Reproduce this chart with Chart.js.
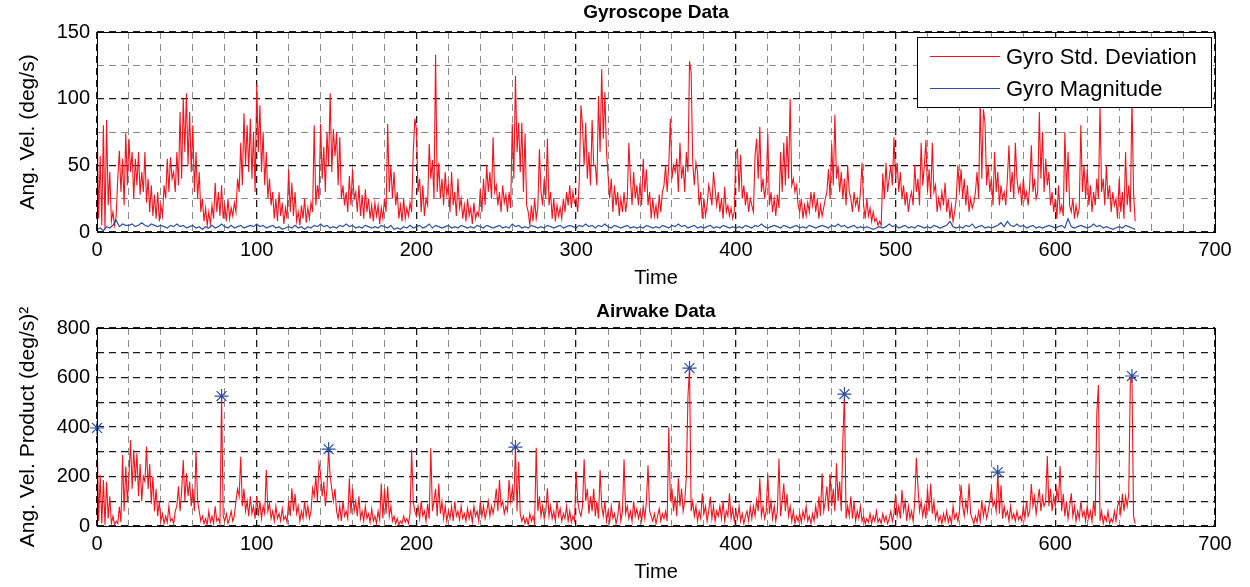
<!DOCTYPE html>
<html>
<head>
<meta charset="utf-8">
<script src="https://cdn.jsdelivr.net/npm/chart.js@4.4.1/dist/chart.umd.min.js"></script>
<style>
  html, body { margin: 0; padding: 0; background: #fff; }
  .panel { position: absolute; left: 0; }
  #gyroPanel { top: 0; }
  #airPanel { top: 293px; }
</style>
</head>
<body>
<div class="panel" id="gyroPanel"><canvas id="gyroChart" width="1250" height="293"></canvas></div>
<div class="panel" id="airPanel"><canvas id="airChart" width="1250" height="294"></canvas></div>
<script>
// Gyro std. deviation, one value per time unit (t = 0..650)
const gyroStd = [
  90, 10, 57, 5, 80, 2, 84, 20, 45, 8,
  15, 5, 12, 40, 61, 30, 55, 20, 74, 35,
  70, 45, 60, 25, 55, 35, 60, 28, 45, 30,
  60, 22, 40, 15, 35, 12, 28, 10, 30, 8,
  20, 12, 35, 25, 55, 30, 56, 40, 45, 30,
  60, 35, 90, 40, 100, 60, 104, 50, 90, 45,
  80, 30, 60, 25, 45, 15, 25, 8, 18, 5,
  15, 6, 20, 10, 37, 15, 30, 12, 35, 10,
  20, 8, 25, 10, 18, 12, 22, 15, 40, 30,
  67, 35, 89, 50, 80, 45, 85, 40, 75, 30,
  111, 60, 95, 45, 75, 35, 60, 25, 40, 20,
  30, 10, 25, 8, 30, 12, 22, 6, 18, 10,
  47, 15, 37, 12, 30, 8, 15, 5, 20, 10,
  25, 7, 18, 10, 22, 15, 80, 20, 35, 25,
  81, 40, 64, 30, 75, 50, 104, 45, 77, 57,
  75, 35, 71, 25, 35, 20, 30, 15, 42, 20,
  47, 25, 30, 15, 35, 12, 28, 10, 32, 15,
  25, 10, 20, 8, 22, 12, 20, 6, 18, 10,
  25, 15, 81, 30, 50, 25, 45, 20, 30, 10,
  20, 8, 25, 10, 18, 12, 22, 15, 60, 85,
  77, 30, 40, 15, 35, 12, 25, 20, 66, 40,
  54, 25, 133, 30, 52, 25, 40, 20, 45, 28,
  35, 15, 45, 20, 30, 12, 40, 18, 25, 10,
  20, 8, 25, 12, 18, 6, 22, 10, 15, 12,
  32, 15, 40, 20, 50, 30, 45, 25, 71, 30,
  35, 20, 30, 15, 35, 22, 28, 15, 30, 18,
  81, 40, 117, 60, 82, 45, 82, 30, 74, 20,
  15, 5, 20, 8, 25, 10, 18, 62, 30, 20,
  40, 25, 70, 20, 30, 10, 25, 8, 20, 12,
  18, 10, 25, 15, 30, 20, 35, 18, 30, 22,
  25, 15, 40, 95, 80, 50, 82, 40, 60, 35,
  84, 50, 50, 35, 102, 60, 122, 70, 105, 60,
  42, 25, 40, 15, 35, 20, 30, 12, 25, 15,
  30, 15, 25, 67, 40, 20, 45, 25, 35, 20,
  37, 20, 55, 30, 47, 20, 30, 10, 25, 12,
  20, 10, 28, 15, 30, 35, 50, 30, 50, 85,
  40, 50, 45, 55, 30, 67, 40, 50, 30, 60,
  45, 128, 120, 52, 35, 52, 45, 20, 30, 10,
  25, 12, 20, 35, 29, 20, 45, 32, 20, 30,
  15, 25, 10, 34, 15, 20, 12, 18, 10, 15,
  60, 62, 30, 58, 25, 35, 20, 30, 15, 25,
  20, 15, 57, 70, 40, 79, 30, 40, 25, 35,
  74, 20, 30, 15, 25, 12, 28, 18, 60, 30,
  67, 35, 72, 40, 100, 35, 40, 30, 35, 20,
  15, 25, 10, 20, 12, 22, 15, 30, 20, 30,
  15, 25, 10, 20, 12, 18, 25, 30, 47, 25,
  66, 35, 88, 40, 50, 30, 45, 25, 40, 20,
  50, 30, 25, 15, 30, 20, 25, 15, 30, 52,
  20, 10, 25, 12, 18, 8, 15, 8, 10, 5,
  8, 5, 44, 25, 52, 30, 40, 50, 35, 71,
  40, 52, 30, 45, 25, 35, 20, 30, 15, 25,
  30, 20, 50, 30, 40, 20, 67, 35, 50, 69,
  30, 47, 25, 67, 30, 35, 15, 25, 18, 30,
  20, 37, 15, 25, 10, 20, 8, 15, 25, 50,
  30, 47, 25, 40, 20, 35, 15, 25, 18, 22,
  30, 45, 25, 100, 40, 92, 82, 35, 50, 30,
  40, 20, 60, 30, 45, 20, 35, 25, 30, 20,
  40, 65, 30, 45, 25, 67, 40, 30, 35, 20,
  40, 25, 30, 20, 35, 65, 30, 40, 25, 30,
  90, 40, 75, 30, 55, 35, 45, 20, 30, 15,
  25, 10, 35, 15, 20, 12, 75, 30, 60, 20,
  15, 25, 10, 20, 12, 18, 80, 30, 50, 25,
  47, 20, 35, 15, 30, 20, 40, 25, 95, 30,
  40, 20, 50, 25, 35, 15, 30, 20, 25, 10,
  40, 15, 30, 10, 60, 20, 35, 15, 100, 30, 8
];

// Gyro magnitude, one value every 2 time units (t = 0..650)
const gyroMag = [
  2, 3, 1, 4, 3, 5, 9, 4, 6, 5,
  5, 6, 4, 5, 7, 5, 4, 6, 5, 4,
  5, 4, 3, 5, 4, 6, 4, 5, 3, 4,
  5, 3, 4, 2, 4, 3, 5, 3, 4, 6,
  4, 3, 5, 3, 4, 5, 3, 4, 5, 4,
  6, 4, 5, 3, 4, 5, 3, 4, 2, 3,
  4, 3, 5, 3, 4, 2, 4, 3, 5, 4,
  6, 4, 5, 3, 4, 3, 5, 4, 6, 4,
  5, 3, 4, 3, 5, 4, 3, 4, 3, 5,
  4, 3, 5, 2, 3, 2, 4, 3, 5, 3,
  4, 5, 3, 4, 6, 3, 5, 4, 3, 4,
  5, 3, 4, 3, 5, 4, 3, 4, 3, 5,
  4, 3, 5, 4, 3, 4, 5, 3, 4, 3,
  6, 4, 5, 3, 4, 3, 5, 4, 3, 4,
  3, 5, 4, 3, 4, 5, 3, 4, 5, 4,
  3, 5, 4, 6, 4, 5, 3, 5, 4, 6,
  4, 3, 5, 4, 3, 4, 5, 3, 4, 3,
  4, 3, 5, 4, 3, 4, 3, 5, 4, 3,
  5, 4, 6, 4, 5, 3, 4, 5, 3, 4,
  3, 4, 5, 3, 4, 3, 5, 4, 3, 4,
  3, 4, 3, 5, 4, 3, 5, 4, 6, 4,
  3, 4, 5, 4, 3, 5, 4, 3, 4, 5,
  3, 4, 3, 5, 4, 3, 4, 5, 4, 3,
  5, 4, 6, 4, 5, 3, 4, 5, 3, 4,
  3, 4, 3, 2, 3, 4, 3, 4, 6, 4,
  5, 3, 4, 5, 3, 4, 3, 5, 4, 3,
  4, 3, 5, 4, 3, 4, 5, 8, 4, 3,
  4, 3, 5, 4, 6, 3, 4, 5, 3, 4,
  3, 4, 5, 7, 4, 8, 5, 4, 6, 4,
  5, 3, 4, 5, 3, 4, 3, 4, 5, 4,
  3, 4, 5, 3, 10, 4, 3, 4, 5, 4,
  3, 4, 6, 4, 5, 3, 4, 3, 2, 3,
  4, 3, 5, 4, 3, 2
];

// Airwake angular velocity product, one value per time unit (t = 0..650)
const airwake = [
  396, 20, 206, 10, 186, 5, 179, 30, 120, 10,
  40, 5, 20, 10, 78, 15, 287, 60, 240, 100,
  200, 347, 150, 307, 180, 294, 120, 250, 100, 200,
  180, 320, 150, 250, 90, 200, 60, 150, 40, 100,
  20, 50, 10, 40, 15, 80, 20, 30, 10, 60,
  80, 160, 60, 140, 267, 100, 213, 120, 180, 80,
  150, 60, 304, 100, 60, 20, 40, 10, 30, 5,
  60, 15, 40, 10, 80, 20, 30, 10, 525, 40,
  20, 50, 10, 30, 60, 20, 40, 100, 150, 120,
  280, 80, 150, 60, 100, 40, 120, 50, 80, 30,
  120, 40, 100, 30, 80, 50, 226, 60, 90, 30,
  60, 20, 80, 30, 50, 20, 70, 25, 40, 15,
  100, 40, 152, 60, 130, 50, 80, 20, 60, 30,
  100, 40, 80, 30, 60, 152, 120, 200, 100, 253,
  213, 120, 180, 80, 150, 311, 200, 150, 100, 150,
  60, 30, 80, 20, 100, 40, 60, 30, 193, 50,
  150, 60, 100, 40, 120, 30, 60, 20, 80, 30,
  50, 15, 70, 20, 40, 10, 60, 25, 172, 30,
  150, 50, 160, 40, 80, 20, 40, 10, 30, 5,
  20, 10, 40, 15, 30, 10, 50, 307, 100, 60,
  40, 80, 30, 100, 40, 60, 20, 90, 30, 314,
  60, 100, 150, 40, 172, 50, 100, 30, 80, 20,
  60, 30, 80, 20, 100, 40, 60, 25, 80, 30,
  50, 20, 70, 30, 60, 15, 80, 40, 60, 20,
  100, 40, 80, 30, 60, 100, 40, 80, 50, 90,
  150, 60, 186, 80, 100, 50, 80, 60, 186, 100,
  150, 100, 319, 60, 260, 50, 20, 40, 10, 30,
  5, 50, 20, 40, 10, 316, 60, 120, 40, 80,
  30, 60, 152, 40, 80, 30, 60, 20, 100, 40,
  70, 20, 50, 30, 80, 20, 60, 15, 40, 20,
  220, 100, 60, 40, 80, 270, 100, 150, 50, 120,
  60, 150, 40, 100, 30, 226, 80, 40, 100, 20,
  60, 15, 80, 30, 50, 10, 40, 100, 20, 60,
  270, 50, 80, 30, 60, 20, 100, 40, 70, 30,
  60, 20, 80, 30, 100, 245, 60, 40, 20, 50,
  10, 40, 70, 20, 50, 30, 60, 20, 399, 100,
  150, 60, 120, 40, 193, 80, 150, 60, 100, 200,
  522, 638, 60, 100, 40, 80, 20, 60, 30, 132,
  50, 80, 20, 60, 118, 30, 80, 20, 60, 40,
  80, 30, 100, 20, 60, 40, 132, 30, 70, 20,
  60, 30, 80, 20, 50, 10, 40, 60, 20, 78,
  30, 80, 40, 105, 60, 193, 40, 80, 30, 60,
  210, 50, 100, 30, 80, 20, 60, 273, 40, 100,
  172, 60, 130, 40, 80, 20, 60, 10, 40, 20,
  50, 15, 60, 30, 80, 20, 40, 10, 50, 20,
  80, 30, 120, 40, 213, 60, 100, 160, 60, 210,
  80, 150, 60, 253, 100, 180, 60, 348, 533, 30,
  80, 40, 120, 30, 100, 20, 60, 30, 80, 20,
  40, 10, 30, 15, 50, 10, 40, 20, 60, 15,
  30, 10, 50, 20, 40, 10, 30, 60, 20, 50,
  130, 40, 80, 30, 145, 60, 100, 20, 80, 30,
  60, 20, 100, 276, 160, 60, 100, 40, 80, 30,
  150, 60, 172, 50, 100, 30, 60, 20, 40, 10,
  50, 20, 60, 15, 40, 10, 80, 30, 50, 20,
  60, 165, 80, 40, 100, 60, 172, 50, 30, 10,
  40, 15, 60, 20, 105, 40, 80, 30, 60, 100,
  150, 80, 100, 60, 218, 50, 165, 30, 80, 40,
  60, 20, 80, 30, 50, 20, 60, 25, 40, 20,
  80, 30, 100, 40, 60, 170, 80, 120, 50, 100,
  150, 60, 120, 80, 100, 283, 80, 150, 60, 120,
  80, 150, 100, 242, 60, 130, 40, 100, 30, 80,
  132, 40, 80, 20, 60, 30, 100, 40, 60, 20,
  80, 30, 60, 20, 100, 40, 455, 570, 20, 60,
  10, 40, 20, 60, 10, 30, 15, 60, 20, 80,
  100, 50, 130, 60, 120, 80, 130, 590, 606, 40, 10
];

// Peaks marked with asterisks on the airwake plot
const peakTimes = [0, 78, 145, 262, 371, 468, 564, 648];
const peakValues = [396, 525, 311, 319, 638, 533, 218, 606];

const FONT = "'Liberation Sans', Arial, Helvetica, sans-serif";
const RED = '#f0141e';
const BLUE = '#2f4fa0';

Chart.defaults.font.family = FONT;
Chart.defaults.color = '#000';

const toPoints = (vals, step) => vals.map((v, i) => ({x: i * step, y: v}));

// axis frame + bold title over the plot area
const framePlugin = {
    id: 'frame',
    afterDatasetsDraw(chart, args, opts) {
        const {ctx, chartArea: a} = chart;
        ctx.save();
        ctx.strokeStyle = '#000';
        ctx.lineWidth = 1;
        ctx.strokeRect(Math.round(a.left) + 0.5, Math.round(a.top) + 0.5,
            Math.round(a.right - a.left), Math.round(a.bottom - a.top));
        ctx.font = 'bold 19px ' + FONT;
        ctx.fillStyle = '#000';
        ctx.textAlign = 'center';
        ctx.textBaseline = 'middle';
        ctx.fillText(opts.text, (a.left + a.right) / 2, opts.y);
        ctx.restore();
    }
};

// boxed legend in the upper right corner of the gyro plot
const boxLegend = {
    id: 'boxLegend',
    afterDatasetsDraw(chart, args, opts) {
        const ctx = chart.ctx;
        ctx.save();
        ctx.fillStyle = '#fff';
        ctx.fillRect(917, 37, 294, 70);
        ctx.strokeStyle = '#000';
        ctx.lineWidth = 1;
        ctx.strokeRect(917.5, 37.5, 294, 70);
        ctx.font = '22px ' + FONT;
        ctx.textBaseline = 'middle';
        ctx.textAlign = 'left';
        opts.items.forEach((it, i) => {
            const y = 56.5 + i * 32;
            ctx.strokeStyle = it.color;
            ctx.beginPath();
            ctx.moveTo(930, y);
            ctx.lineTo(1000, y);
            ctx.stroke();
            ctx.fillStyle = '#000';
            ctx.fillText(it.label, 1006, y + 1);
        });
        ctx.restore();
    }
};

function xScale() {
    return {
        type: 'linear',
        min: 0, max: 700,
        afterFit(scale) { scale.height = 61; },
        ticks: {
            stepSize: 20, autoSkip: false, maxRotation: 0, padding: 6,
            font: {size: 20},
            callback: v => (v % 100 === 0 ? v : '')
        },
        grid: {
            drawTicks: false,
            lineWidth: c => (c.tick && c.tick.value % 100 === 0 ? 1.3 : 1),
            color: c => (c.tick && c.tick.value % 100 === 0 ? '#1a1a1a' : '#8a8a8a')
        },
        border: {display: false, dash: [7, 5]},
        title: {display: true, text: 'Time', font: {size: 20}, padding: {top: 0, bottom: 3}}
    };
}

function yScale(max, step, labelStep, majorStep, label) {
    return {
        min: 0, max: max,
        afterFit(scale) { scale.width = 97; },
        ticks: {
            stepSize: step, autoSkip: false, padding: 7,
            font: {size: 20},
            callback: v => (v % labelStep === 0 ? v : '')
        },
        grid: {
            drawTicks: false,
            lineWidth: c => (c.tick && c.tick.value % majorStep === 0 ? 1.3 : 1),
            color: c => (c.tick && c.tick.value % majorStep === 0 ? '#1a1a1a' : '#8a8a8a')
        },
        border: {display: false, dash: [7, 5]},
        title: {display: true, text: label, font: {size: 21}, padding: {top: 16, bottom: 0}}
    };
}

const common = {
    responsive: false,
    animation: false,
    events: [],
    plugins: {legend: {display: false}, tooltip: {enabled: false}}
};

new Chart(document.getElementById('gyroChart'), {
    type: 'line',
    data: {
        datasets: [
            {label: 'Gyro Magnitude', data: toPoints(gyroMag, 2), borderColor: BLUE, borderWidth: 1.2, pointRadius: 0, order: 0},
            {label: 'Gyro Std. Deviation', data: toPoints(gyroStd, 1), borderColor: RED, borderWidth: 1.1, pointRadius: 0, order: 1}
        ]
    },
    options: {
        ...common,
        layout: {padding: {top: 32, right: 35, left: 0, bottom: 0}},
        scales: {x: xScale(), y: yScale(150, 25, 50, 50, 'Ang. Vel. (deg/s)')},
        plugins: {
            ...common.plugins,
            frame: {text: 'Gyroscope Data', y: 13},
            boxLegend: {items: [
                {label: 'Gyro Std. Deviation', color: RED},
                {label: 'Gyro Magnitude', color: BLUE}
            ]}
        }
    },
    plugins: [framePlugin, boxLegend]
});

new Chart(document.getElementById('airChart'), {
    type: 'line',
    data: {
        datasets: [
            {label: 'Peaks', data: peakTimes.map((t, i) => ({x: t, y: peakValues[i]})), showLine: false,
             pointStyle: 'star', pointRadius: 7, borderColor: BLUE, borderWidth: 1.2, order: 0, clip: false},
            {label: 'Airwake', data: toPoints(airwake, 1), borderColor: RED, borderWidth: 1.1, pointRadius: 0, order: 1}
        ]
    },
    options: {
        ...common,
        layout: {padding: {top: 35, right: 35, left: 0, bottom: 0}},
        scales: {x: xScale(), y: yScale(800, 100, 200, 100, 'Ang. Vel. Product (deg/s)²')},
        plugins: {
            ...common.plugins,
            frame: {text: 'Airwake Data', y: 19}
        }
    },
    plugins: [framePlugin]
});
</script>
</body>
</html>
